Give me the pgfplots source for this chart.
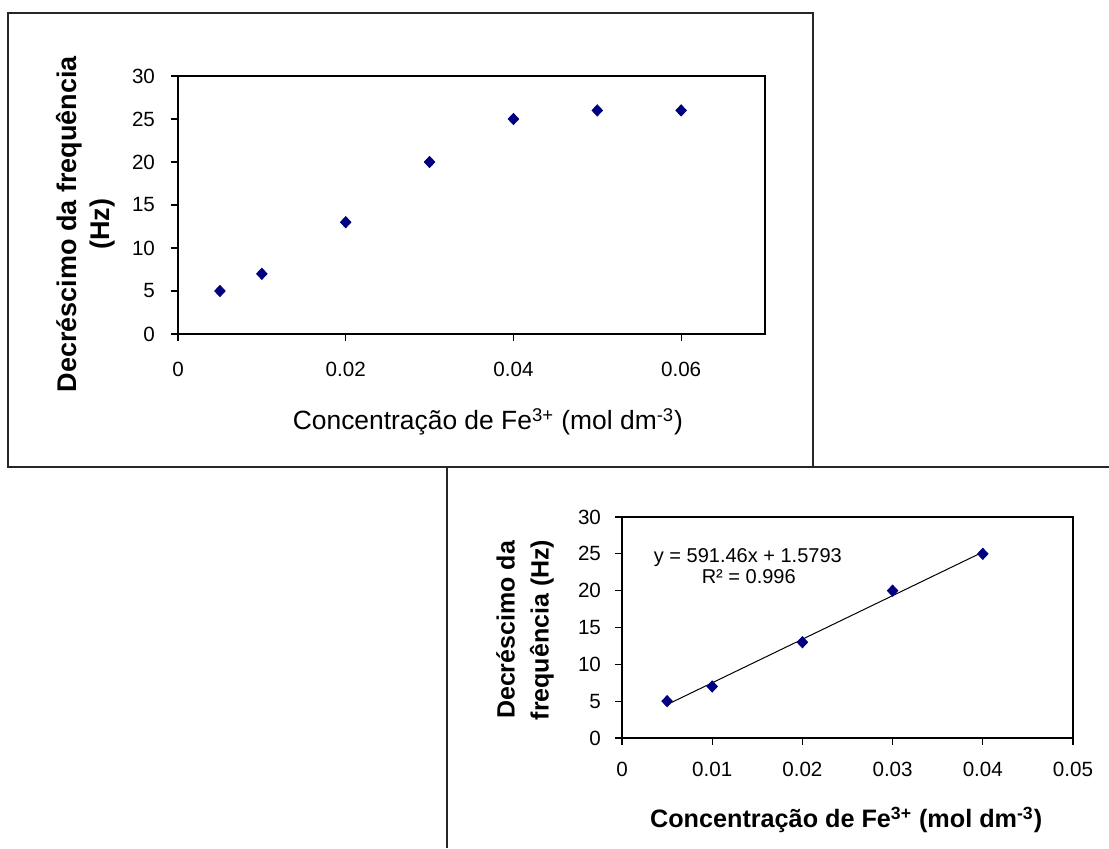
\documentclass[border=0pt]{standalone}
\usepackage{pgfplots}
\pgfplotsset{compat=1.18}
\usepackage{fontspec}
\setmainfont{Liberation Sans}
\definecolor{navy}{RGB}{0,0,128}
\pgfplotsset{myax/.style={
  scale only axis,
  axis line style={line width=0.9pt},
  tick align=outside, tick pos=left,
  major tick length=3.5pt,
  every tick/.style={black, line width=0.6pt},
  ticklabel style={font=\fontsize{10.3}{12}\selectfont},
  /pgf/number format/assume math mode=true,
  scaled x ticks=false,
  ymin=0, ymax=30, ytick={0,5,...,30},
  clip=false,
}}
\begin{document}
\begin{tikzpicture}
\path[use as bounding box] (0,0) rectangle (554.5pt,424pt);
% frames
\draw[line width=1pt, black!85] (4pt,417.5pt) rectangle (406.5pt,190.5pt);
\draw[line width=1pt, black!85] (223.5pt,0pt) -- (223.5pt,190.5pt) -- (554.5pt,190.5pt);

% top chart
\begin{axis}[myax,
  at={(89pt,257pt)}, anchor=south west,
  width=293.5pt, height=129pt,
  xmin=0, xmax=0.07,
  xtick={0,0.02,0.04,0.06}, xticklabels={0,0.02,0.04,0.06},
  xticklabel style={yshift=-7pt},
  yticklabel style={xshift=-4.5pt},
  xlabel={Concentração de Fe\textsuperscript{3+} (mol dm\textsuperscript{-3})},
  xlabel style={at={(axis description cs:0.528,-0.341)}, anchor=center, font=\fontsize{13.2}{15}\selectfont},
  ylabel={Decréscimo da frequência\\(Hz)},
  ylabel style={at={(axis description cs:-0.158,0.426)}, anchor=center, align=center, font=\fontsize{13.5}{16.5}\selectfont\bfseries},
]
\addplot[only marks, mark=diamond*, mark size=2.8pt, mark options={xscale=1.25}, draw=navy, fill=navy] coordinates {
  (0.005,5) (0.01,7) (0.02,13) (0.03,20) (0.04,25) (0.05,26) (0.06,26)
};
\end{axis}

% bottom chart
\begin{axis}[myax,
  at={(311pt,55pt)}, anchor=south west,
  width=225.5pt, height=110.5pt,
  xmin=0, xmax=0.05,
  xtick={0,0.01,0.02,0.03,0.04,0.05}, xticklabels={0,0.01,0.02,0.03,0.04,0.05},
  xticklabel style={yshift=-5pt},
  yticklabel style={xshift=-3.5pt},
  xlabel={Concentração de Fe\textsuperscript{3+} (mol dm\textsuperscript{-3})},
  xlabel style={at={(axis description cs:0.497,-0.371)}, anchor=center, font=\fontsize{12.6}{15}\selectfont\bfseries},
  ylabel={Decréscimo da\\frequência (Hz)},
  ylabel style={at={(axis description cs:-0.215,0.489)}, anchor=center, align=center, font=\fontsize{12.5}{17}\selectfont\bfseries},
]
\addplot[black, line width=0.5pt, no marks] coordinates {(0.005,4.5366) (0.04,25.2377)};
\addplot[only marks, mark=diamond*, mark size=2.8pt, mark options={xscale=1.25}, draw=navy, fill=navy] coordinates {
  (0.005,5) (0.01,7) (0.02,13) (0.03,20) (0.04,25)
};
\node[anchor=base, font=\fontsize{10}{12}\selectfont] at (axis description cs:0.279,0.796) {y = 591.46x + 1.5793};
\node[anchor=base, font=\fontsize{10}{12}\selectfont] at (axis description cs:0.281,0.701) {R² = 0.996};
\end{axis}
\end{tikzpicture}
\end{document}
